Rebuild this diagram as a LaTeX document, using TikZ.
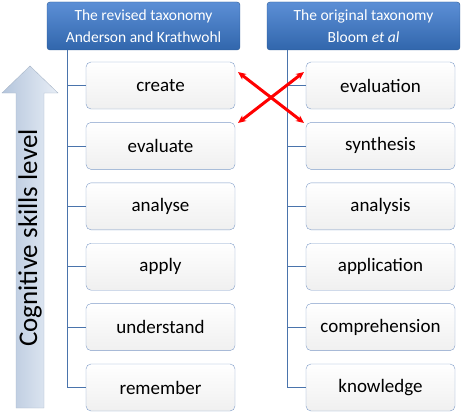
\documentclass[tikz,border=0pt]{standalone}
\usepackage{fontspec}
\setmainfont{Carlito}
\usepackage{xcolor}
\usetikzlibrary{arrows.meta,positioning}

\definecolor{hdrtop}{HTML}{5C8FD6}
\definecolor{hdrbot}{HTML}{3166AC}
\definecolor{hdrline}{HTML}{2B5A94}
\definecolor{boxline}{HTML}{7F9CC8}
\definecolor{trunk}{HTML}{4A74AC}
\definecolor{arrowleft}{HTML}{B4C5DC}
\definecolor{arrowright}{HTML}{E8EEF6}

\begin{document}
\begin{tikzpicture}[
  x=1pt, y=-1pt,
  node distance=13pt,
  header/.style={draw=hdrline, rounded corners=3pt, top color=hdrtop, bottom color=hdrbot, text=white, align=center, minimum width=193pt, minimum height=48pt, font=\fontsize{15.5}{22}\selectfont},
  levelbox/.style={draw=boxline, rounded corners=5pt, top color=white, bottom color=gray!12, minimum width=149pt, minimum height=47pt, font=\fontsize{19}{22}\selectfont},
  branch/.style={draw=trunk, line width=0.8pt},
  swap/.style={{Stealth[length=8pt,width=7pt]}-{Stealth[length=8pt,width=7pt]}, red, line width=3pt}
]
\useasboundingbox (0,0) rectangle (465,412);

% skills arrow
\shade[left color=arrowleft, right color=arrowright, draw=arrowleft!80!gray, line width=0.4pt]
  (16,408) -- (16,93) -- (2,93) -- (30,66) -- (58,93) -- (44,93) -- (44,408) -- cycle;
\node[rotate=90, font=\fontsize{27}{30}\selectfont] (skills) at (30,238) {Cognitive skills level};

% headers
\node[header] (revised) at (143.5,26) {The revised taxonomy\\Anderson and Krathwohl};
\node[header] (original) at (363.5,26) {The original taxonomy\\Bloom \textit{et al}};
\coordinate (trunkL) at (67,50);
\coordinate (trunkR) at (287,50);

% revised levels
\node[levelbox] (create) at (160.5,85.5) {create};
\node[levelbox, below=of create] (evaluate) {evaluate};
\node[levelbox, below=of evaluate] (analyse) {analyse};
\node[levelbox, below=of analyse] (apply) {apply};
\node[levelbox, below=of apply] (understand) {understand};
\node[levelbox, below=of understand] (remember) {remember};

% original levels
\node[levelbox] (evaluation) at (380.5,85.5) {evaluation};
\node[levelbox, below=of evaluation] (synthesis) {synthesis};
\node[levelbox, below=of synthesis] (analysis) {analysis};
\node[levelbox, below=of analysis] (application) {application};
\node[levelbox, below=of application] (comprehension) {comprehension};
\node[levelbox, below=of comprehension] (knowledge) {knowledge};

\foreach \b in {create,evaluate,analyse,apply,understand,remember} \draw[branch] (trunkL) |- (\b.west);
\foreach \b in {evaluation,synthesis,analysis,application,comprehension,knowledge} \draw[branch] (trunkR) |- (\b.west);

% swapped levels
\coordinate (swapTL) at (238,72);
\coordinate (swapBL) at (238,123);
\coordinate (swapTR) at (304,72);
\coordinate (swapBR) at (304,123);
\draw[swap] (swapTL) -- (swapBR);
\draw[swap] (swapBL) -- (swapTR);
\end{tikzpicture}
\end{document}
